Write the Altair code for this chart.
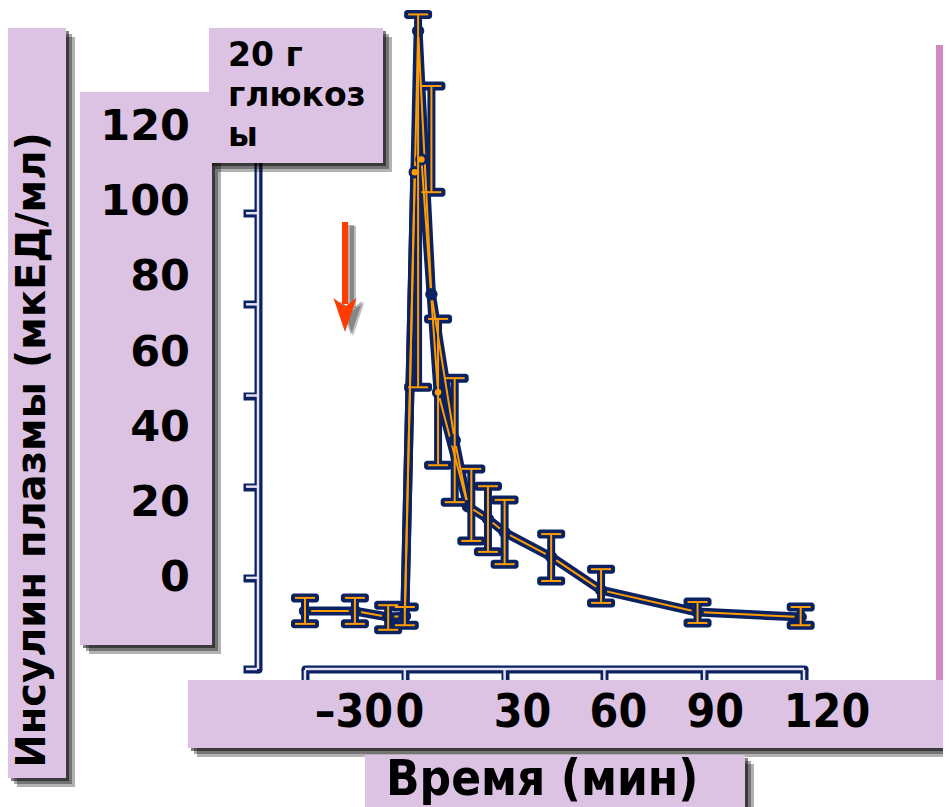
import altair as alt
import pandas as pd

# ---------------- data ----------------
x_ticks = [-30, 0, 30, 60, 90, 120]
x_tick_labels = ["–30", "0", "30", "60", "90", "120"]
y_ticks = [0, 20, 40, 60, 80, 100, 120]
y_tick_labels = ["0", "20", "40", "60", "80", "100", "120"]

# series drawn with navy markers
b_time = [-30, -15, -5, 0, 4, 8, 15, 19, 25, 30, 44, 59, 88, 119]
b_insulin = [12.7, 12.7, 11.4, 11.6, 140.0, 82.2, 50.2, 35.7, 32.9, 30.0, 24.6, 17.3, 12.5, 11.4]
# series drawn with orange markers
a_time = [0, 3, 5, 10, 19]
a_insulin = [11.6, 109.0, 111.8, 60.7, 35.7]

# error bars
err_time = [-30, -15, -5, 0, 4, 8, 10, 15, 20, 25, 30, 44, 59, 88, 119]
err_low = [9.9, 9.9, 8.6, 9.6, 61.8, 104.6, 44.7, 36.6, 28.1, 25.7, 23.0, 19.3, 14.5, 10.1, 9.6]
err_high = [15.6, 15.6, 14.0, 13.6, 143.6, 127.9, 76.8, 63.8, 43.9, 40.1, 37.1, 29.6, 21.9, 14.7, 13.6]

title_y = "Инсулин плазмы  (мкЕД/мл)"
title_x = "Время (мин)"
note_lines = ["20 г", "глюкоз", "ы"]

# ---------------- style ----------------
NAVY = "#0b2262"
ORANGE = "#ff9d00"
LAV = "#dcc3e3"
PINK = "#d38ac4"
RED = "#ff3b00"
INNER = "#e6e0f0"
FONT = "DejaVu Sans"
FONT_C = "DejaVu Sans Condensed, DejaVu Sans"

W, H = 499, 547
X_SC = alt.Scale(domain=[-30, 120], nice=False, zero=False)
Y_SC = alt.Scale(domain=[0, 120], nice=False, zero=False)
X_AX = alt.Axis(values=x_ticks, labels=False, title=None, grid=False,
                domainColor=NAVY, domainWidth=8, tickColor=NAVY, tickWidth=8,
                tickSize=16, zindex=0, domainCap="round")
Y_AX = alt.Axis(values=y_ticks, labels=False, title=None, grid=False, offset=47,
                domainColor=NAVY, domainWidth=8, tickColor=NAVY, tickWidth=8,
                tickSize=15, zindex=0, domainCap="round")


def X(f):
    return alt.X(f, type="quantitative", scale=X_SC, axis=X_AX)


def Y(f):
    return alt.Y(f, type="quantitative", scale=Y_SC, axis=Y_AX)


ONE = pd.DataFrame({"k": [0]})
dfA = pd.DataFrame({"t": a_time, "v": a_insulin})
dfB = pd.DataFrame({"t": b_time, "v": b_insulin})
dfE = pd.DataFrame({"t": err_time, "lo": err_low, "hi": err_high})
dfXT = pd.DataFrame({"t": x_ticks, "lab": x_tick_labels})
dfYT = pd.DataFrame({"v": y_ticks, "lab": y_tick_labels})
dfXspan = pd.DataFrame({"lo": [min(x_ticks)], "hi": [max(x_ticks)]})
dfYspan = pd.DataFrame({"lo": [min(y_ticks)], "hi": [max(y_ticks)]})

layers = []

# light inner lines of the double-line axes
layers.append(alt.Chart(dfYT).mark_rule(color=INNER, strokeWidth=2.5).encode(
    y=Y("v"), x=alt.value(-59), x2=alt.value(-48)))
layers.append(alt.Chart(dfYspan).mark_rule(color=INNER, strokeWidth=2.5).encode(
    y=Y("lo"), y2="hi", x=alt.value(-47)))
layers.append(alt.Chart(dfXT).mark_rule(color=INNER, strokeWidth=2.5).encode(
    x=X("t"), y=alt.value(H + 1), y2=alt.value(H + 15)))
layers.append(alt.Chart(dfXspan).mark_rule(color=INNER, strokeWidth=2.5).encode(
    x=X("lo"), x2="hi", y=alt.value(H)))

# navy outlines
for df in (dfB, dfA):
    layers.append(alt.Chart(df).mark_line(color=NAVY, strokeWidth=9, strokeCap="round",
                                          strokeJoin="round").encode(x=X("t"), y=Y("v")))
layers.append(alt.Chart(dfE).mark_rule(color=NAVY, strokeWidth=8).encode(
    x=X("t"), y=Y("lo"), y2="hi"))
for f in ("lo", "hi"):
    layers.append(alt.Chart(dfE).mark_tick(color=NAVY, orient="horizontal", size=28,
                                           thickness=9, cornerRadius=3, opacity=1).encode(
        x=X("t"), y=Y(f)))
# orange cores
for df in (dfB, dfA):
    layers.append(alt.Chart(df).mark_line(color=ORANGE, strokeWidth=2, strokeCap="round",
                                          strokeJoin="round").encode(x=X("t"), y=Y("v")))
# markers
layers.append(alt.Chart(dfA).mark_point(shape="circle", filled=True, size=90, fill=ORANGE,
                                        stroke=NAVY, strokeWidth=3, opacity=1).encode(
    x=X("t"), y=Y("v")))
layers.append(alt.Chart(dfB).mark_point(shape="circle", filled=True, size=130, fill=NAVY,
                                        stroke=NAVY, strokeWidth=1, opacity=1).encode(
    x=X("t"), y=Y("v")))
layers.append(alt.Chart(dfE).mark_rule(color=ORANGE, strokeWidth=2).encode(
    x=X("t"), y=Y("lo"), y2="hi"))
for f in ("lo", "hi"):
    layers.append(alt.Chart(dfE).mark_tick(color=ORANGE, orient="horizontal", size=20,
                                           thickness=2, opacity=1).encode(
        x=X("t"), y=Y(f)))


def box(x1, y1, x2, y2, color, shadow=True):
    out = []
    if shadow:
        for off, op in [(9, 0.3), (6, 0.35), (3, 0.5)]:
            out.append(alt.Chart(ONE).mark_rect(color="black", opacity=op).encode(
                x=alt.value(x1 + off), x2=alt.value(x2 + off),
                y=alt.value(y1 + off), y2=alt.value(y2 + off)))
    out.append(alt.Chart(ONE).mark_rect(color=color, opacity=1).encode(
        x=alt.value(x1), x2=alt.value(x2), y=alt.value(y1), y2=alt.value(y2)))
    return out


def txt(text, x, y, size, font=FONT, align="left", angle=0):
    return alt.Chart(ONE).mark_text(text=text, font=font, fontSize=size, fontWeight="bold",
                                    align=align, baseline="middle", angle=angle,
                                    color="black").encode(x=alt.value(x), y=alt.value(y))


# text boxes (positions relative to the plot area)
layers += box(-297, -94, -239, 656, LAV)          # y title box
layers += box(-225, -30, -93, 523, LAV)           # y tick label box
layers += box(-96, -94, 78, 41, LAV)              # glucose note box
layers += box(-117, 558, 660, 626, LAV)           # x tick label box
layers += box(60, 633, 440, 700, LAV)             # x title box
layers += box(631, -77, 660, 558, PINK, shadow=False)

layers.append(txt(title_y, -272, 328, 40, angle=270, align="center"))
for i, line in enumerate(note_lines):
    layers.append(txt(line, -77, -66 + 40 * i, 33))
layers.append(txt(title_x, 81, 658, 49, font=FONT_C))

# y tick labels, placed in the box with their own (compressed) spacing
layers.append(alt.Chart(dfYT).transform_calculate(pos="19.96 + 0.8245 * datum.v").mark_text(
    font=FONT, fontSize=43, fontWeight="bold", align="right", baseline="middle",
    color="black").encode(y=Y("pos"), x=alt.value(-115), text="lab:N"))

# x tick labels in the box
X_DX = {-30: 88, 0: 5, 30: 18, 60: 14, 90: 11, 120: 23}
for t, lab in zip(x_ticks, x_tick_labels):
    layers.append(alt.Chart(dfXT).transform_filter(alt.datum.t == t).mark_text(
        font=FONT_C, fontSize=46, fontWeight="bold", align="right" if t == -30 else "center",
        baseline="middle", dx=X_DX[t], color="black").encode(
        x=X("t"), y=alt.value(591), text="lab:N"))

# red arrow with soft shadow
HEAD = "M-0.68,-1 L0,1 L0.68,-1 L0,-0.5 Z"
for dx, dy, col, op in [(8, 4, "#444444", 0.35), (6, 3, "#222222", 0.35), (0, 0, RED, 1)]:
    layers.append(alt.Chart(ONE).mark_rule(color=col, strokeWidth=6, opacity=op).encode(
        x=alt.value(40 + dx), y=alt.value(100 + dy), y2=alt.value(182 + dy)))
    layers.append(alt.Chart(ONE).mark_point(shape=HEAD, size=1156, filled=True, color=col,
                                            opacity=op).encode(
        x=alt.value(40 + dx), y=alt.value(193 + dy)))

chart = alt.layer(*layers).properties(
    width=W, height=H,
    padding={"left": 297, "top": 114, "right": 139, "bottom": 138},
    autosize=alt.AutoSizeParams(type="none"),
    background="white",
).configure_view(stroke=None)

chart.save("out.html", embed_options={"renderer": "svg", "actions": False})
